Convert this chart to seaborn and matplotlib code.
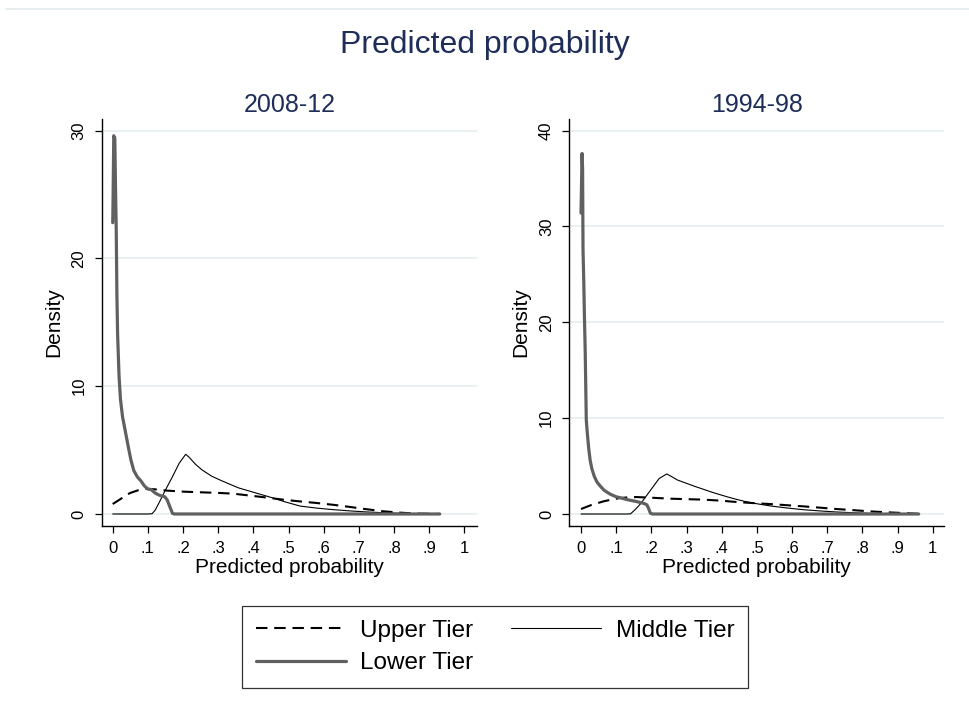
import matplotlib
matplotlib.use("Agg")
import matplotlib.pyplot as plt
from matplotlib.lines import Line2D
import seaborn as sns

# ---------------- data ----------------
panels = ["2008-12", "1994-98"]
series_names = ["Upper Tier", "Middle Tier", "Lower Tier"]
x_ticks = [0, .1, .2, .3, .4, .5, .6, .7, .8, .9, 1]
x_tick_labels = ["0", ".1", ".2", ".3", ".4", ".5", ".6", ".7", ".8", ".9", "1"]
y_ticks_08 = [0, 10, 20, 30]
y_ticks_94 = [0, 10, 20, 30, 40]

# 2008-12
upper_x_08 = [0, 0.025, 0.049, 0.075, 0.097, 0.12, 0.154, 0.2, 0.248, 0.3, 0.343, 0.39,
              0.44, 0.485, 0.53, 0.58, 0.63, 0.675, 0.72, 0.77, 0.82, 0.864, 0.93]
upper_y_08 = [0.78, 1.22, 1.64, 1.88, 1.98, 1.93, 1.83, 1.75, 1.70, 1.65, 1.59, 1.44,
              1.28, 1.12, 0.99, 0.86, 0.71, 0.55, 0.38, 0.21, 0.10, 0.03, 0.0]
middle_x_08 = [0, 0.10, 0.112, 0.121, 0.136, 0.15, 0.17, 0.189, 0.2075, 0.217, 0.235, 0.254,
               0.282, 0.31, 0.357, 0.404, 0.45, 0.49, 0.533, 0.58, 0.627, 0.675, 0.722, 0.77,
               0.817, 0.87, 0.93]
middle_y_08 = [0, 0, 0.02, 0.31, 1.1, 1.88, 2.92, 3.97, 4.67, 4.45, 3.9, 3.45,
               2.95, 2.6, 2.05, 1.67, 1.3, 0.95, 0.62, 0.46, 0.34, 0.24, 0.16, 0.10,
               0.05, 0.02, 0.0]
lower_x_08 = [0.000, 0.001, 0.003, 0.006, 0.008, 0.010, 0.012, 0.014, 0.018, 0.022, 0.028,
              0.035, 0.044, 0.052, 0.060, 0.070, 0.080, 0.090, 0.100, 0.110, 0.120, 0.130,
              0.140, 0.148, 0.155, 0.162, 0.170, 0.175, 0.4, 0.7, 0.93]
lower_y_08 = [22.8, 24.5, 29.6, 29.4, 25.5, 22.3, 17.0, 14.0, 10.8, 9.0, 7.6,
              6.6, 5.3, 4.2, 3.4, 2.9, 2.6, 2.2, 1.95, 1.9, 1.65, 1.5,
              1.4, 1.35, 1.1, 0.6, 0.05, 0.0, 0.0, 0.0, 0.0]

# 1994-98
upper_x_94 = [0, 0.03, 0.064, 0.09, 0.111, 0.135, 0.158, 0.2, 0.253, 0.3, 0.348, 0.395,
              0.443, 0.49, 0.537, 0.585, 0.632, 0.68, 0.727, 0.775, 0.82, 0.87, 0.917, 0.96]
upper_y_94 = [0.52, 0.95, 1.32, 1.53, 1.67, 1.74, 1.77, 1.70, 1.60, 1.55, 1.50, 1.40,
              1.25, 1.14, 1.04, 0.92, 0.80, 0.66, 0.52, 0.40, 0.28, 0.18, 0.10, 0.02]
middle_x_94 = [0, 0.13, 0.141, 0.155, 0.17, 0.184, 0.198, 0.222, 0.244, 0.26, 0.274, 0.30,
               0.322, 0.348, 0.37, 0.395, 0.417, 0.443, 0.465, 0.49, 0.537, 0.585, 0.632,
               0.68, 0.727, 0.775, 0.82, 0.87, 0.92, 0.96]
middle_y_94 = [0, 0, 0.02, 0.5, 1.1, 1.8, 2.5, 3.7, 4.18, 3.85, 3.55, 3.2,
               2.9, 2.58, 2.3, 2.02, 1.78, 1.52, 1.32, 1.13, 0.85, 0.63, 0.45,
               0.32, 0.21, 0.13, 0.07, 0.03, 0.01, 0.0]
lower_x_94 = [0, 0.0015, 0.003, 0.0045, 0.0057, 0.008, 0.0095, 0.012, 0.015, 0.018, 0.022,
              0.026, 0.031, 0.038, 0.046, 0.055, 0.065, 0.075, 0.084, 0.10, 0.111, 0.131,
              0.158, 0.179, 0.187, 0.192, 0.197, 0.203, 0.4, 0.7, 0.96]
lower_y_94 = [31.4, 34.5, 37.6, 36.0, 27.6, 24.0, 21.0, 16.8, 9.8, 8.4, 6.8,
              5.6, 4.7, 3.9, 3.3, 2.9, 2.5, 2.25, 2.05, 1.8, 1.7, 1.5,
              1.3, 1.1, 0.97, 0.6, 0.1, 0.0, 0.0, 0.0, 0.0]

panel_data = [
    (upper_x_08, upper_y_08, middle_x_08, middle_y_08, lower_x_08, lower_y_08, y_ticks_08),
    (upper_x_94, upper_y_94, middle_x_94, middle_y_94, lower_x_94, lower_y_94, y_ticks_94),
]

# ---------------- style ----------------
sns.set_theme(style="white")
plt.rcParams["font.family"] = ["Liberation Sans", "DejaVu Sans"]
plt.rcParams["text.color"] = "black"

navy = "#1f2d59"
grid_col = "#e6eff1"

fig = plt.figure(figsize=(9.7, 7.04), dpi=100)
fig.patch.set_facecolor("white")

axes_rects = [
    [101.7 / 970, 1 - 526 / 704, 375.3 / 970, (526 - 118.5) / 704],
    [569.3 / 970, 1 - 526 / 704, 374.7 / 970, (526 - 119) / 704],
]
xlims = [(-0.0313, 1.036), (-0.0333, 1.032)]
ylims = [(-0.94, 30.95), (-1.25, 41.2)]

styles = [
    dict(color="black", linewidth=1.5, linestyle=(0, (5.5, 3.25))),
    dict(color="black", linewidth=0.8, linestyle="-"),
    dict(color="#606060", linewidth=2.3, linestyle="-"),
]

handles = None
for i, (ux, uy, mx, my, lx, ly, yt) in enumerate(panel_data):
    ax = fig.add_axes(axes_rects[i])
    ax.set_facecolor("white")
    for v in yt:
        ax.axhline(v, color=grid_col, linewidth=1.3, zorder=0)
    for (xs, ys), name, st in zip([(ux, uy), (mx, my), (lx, ly)], series_names, styles):
        sns.lineplot(x=xs, y=ys, ax=ax, label=name, estimator=None, sort=False, **st)
    hs, ls = ax.get_legend_handles_labels()
    handles = dict(zip(ls, hs))
    ax.get_legend().remove()

    ax.set_xlim(*xlims[i])
    ax.set_ylim(*ylims[i])
    ax.set_xticks(x_ticks)
    ax.set_xticklabels(x_tick_labels)
    ax.set_yticks(yt)
    ax.set_yticklabels([str(v) for v in yt], rotation=90, va="center")
    for s in ["top", "right"]:
        ax.spines[s].set_visible(False)
    for s in ["left", "bottom"]:
        ax.spines[s].set_color("black")
        ax.spines[s].set_linewidth(1.0)
    ax.tick_params(axis="both", direction="out", length=5, width=0.9, color="black",
                   labelsize=12, labelcolor="black", pad=6,
                   bottom=True, left=True)
    ax.grid(False)
    ax.set_xlabel("Predicted probability", fontsize=15, color="black", labelpad=1)
    ax.set_ylabel("Density", fontsize=15, color="black", labelpad=6)
    ax.set_title(panels[i], fontsize=18, color=navy, pad=5)

fig.suptitle("Predicted probability", fontsize=23, color=navy, x=0.5, y=1 - 30 / 704,
             va="top")

fig.add_artist(Line2D([6 / 970, 1], [1 - 9.3 / 704, 1 - 9.3 / 704],
                      transform=fig.transFigure, color="#e3ebed", linewidth=1.2))

leg = fig.legend([handles["Upper Tier"], handles["Lower Tier"], handles["Middle Tier"]],
                 ["Upper Tier", "Lower Tier", "Middle Tier"],
                 ncol=2, loc="center", bbox_to_anchor=(495 / 970, 1 - 647 / 704),
                 fontsize=17.5, frameon=True, fancybox=False, handlelength=3.7,
                 handletextpad=0.6, columnspacing=1.55, labelspacing=0.42,
                 borderpad=0.58, borderaxespad=0, labelcolor="black")
leg.get_frame().set_edgecolor("black")
leg.get_frame().set_linewidth(0.9)

fig.savefig("out.png", dpi=100, facecolor="white")
